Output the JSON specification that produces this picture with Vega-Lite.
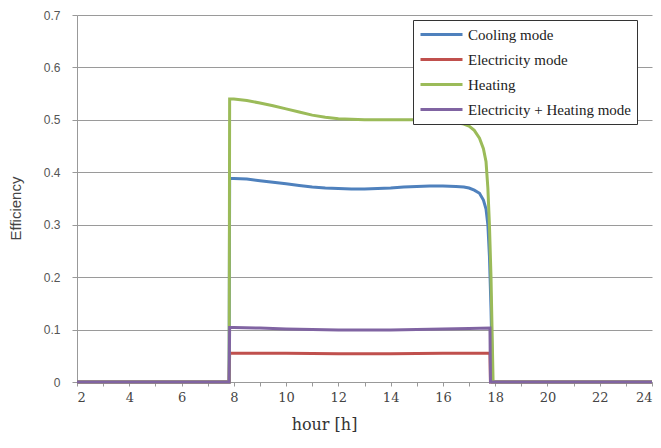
{
  "$schema": "https://vega.github.io/schema/vega-lite/v6.json",
  "width": 575,
  "height": 367,
  "autosize": {"type": "none"},
  "padding": {"left": 77, "top": 15, "right": 9, "bottom": 66},
  "background": "white",
  "config": {
    "view": {"stroke": null}
  },
  "data": {"values": [
    {"h":2,"s":"Cooling mode","v":0},{"h":7.82,"s":"Cooling mode","v":0},{"h":7.84,"s":"Cooling mode","v":0.388},{"h":8,"s":"Cooling mode","v":0.388},{"h":8.5,"s":"Cooling mode","v":0.387},{"h":9,"s":"Cooling mode","v":0.384},{"h":9.5,"s":"Cooling mode","v":0.381},{"h":10,"s":"Cooling mode","v":0.378},{"h":10.5,"s":"Cooling mode","v":0.375},{"h":11,"s":"Cooling mode","v":0.372},{"h":11.5,"s":"Cooling mode","v":0.37},{"h":12,"s":"Cooling mode","v":0.369},{"h":12.5,"s":"Cooling mode","v":0.368},{"h":13,"s":"Cooling mode","v":0.368},{"h":13.5,"s":"Cooling mode","v":0.369},{"h":14,"s":"Cooling mode","v":0.37},{"h":14.5,"s":"Cooling mode","v":0.372},{"h":15,"s":"Cooling mode","v":0.373},{"h":15.5,"s":"Cooling mode","v":0.374},{"h":16,"s":"Cooling mode","v":0.374},{"h":16.5,"s":"Cooling mode","v":0.373},{"h":16.8,"s":"Cooling mode","v":0.372},{"h":17,"s":"Cooling mode","v":0.37},{"h":17.2,"s":"Cooling mode","v":0.366},{"h":17.4,"s":"Cooling mode","v":0.36},{"h":17.55,"s":"Cooling mode","v":0.347},{"h":17.65,"s":"Cooling mode","v":0.33},{"h":17.72,"s":"Cooling mode","v":0.3},{"h":17.78,"s":"Cooling mode","v":0.24},{"h":17.84,"s":"Cooling mode","v":0.14},{"h":17.9,"s":"Cooling mode","v":0},{"h":24,"s":"Cooling mode","v":0},
    {"h":2,"s":"Electricity mode","v":0},{"h":7.82,"s":"Electricity mode","v":0},{"h":7.84,"s":"Electricity mode","v":0.055},{"h":10,"s":"Electricity mode","v":0.055},{"h":12,"s":"Electricity mode","v":0.054},{"h":14,"s":"Electricity mode","v":0.054},{"h":16,"s":"Electricity mode","v":0.055},{"h":17.8,"s":"Electricity mode","v":0.055},{"h":17.82,"s":"Electricity mode","v":0},{"h":24,"s":"Electricity mode","v":0},
    {"h":2,"s":"Heating","v":0},{"h":7.82,"s":"Heating","v":0},{"h":7.84,"s":"Heating","v":0.54},{"h":8,"s":"Heating","v":0.54},{"h":8.5,"s":"Heating","v":0.537},{"h":9,"s":"Heating","v":0.532},{"h":9.5,"s":"Heating","v":0.527},{"h":10,"s":"Heating","v":0.521},{"h":10.5,"s":"Heating","v":0.515},{"h":11,"s":"Heating","v":0.509},{"h":11.5,"s":"Heating","v":0.505},{"h":12,"s":"Heating","v":0.502},{"h":12.5,"s":"Heating","v":0.501},{"h":13,"s":"Heating","v":0.5},{"h":14,"s":"Heating","v":0.5},{"h":15,"s":"Heating","v":0.5},{"h":15.5,"s":"Heating","v":0.499},{"h":16,"s":"Heating","v":0.498},{"h":16.5,"s":"Heating","v":0.495},{"h":16.8,"s":"Heating","v":0.492},{"h":17,"s":"Heating","v":0.488},{"h":17.2,"s":"Heating","v":0.48},{"h":17.4,"s":"Heating","v":0.465},{"h":17.55,"s":"Heating","v":0.445},{"h":17.65,"s":"Heating","v":0.42},{"h":17.72,"s":"Heating","v":0.37},{"h":17.78,"s":"Heating","v":0.3},{"h":17.84,"s":"Heating","v":0.2},{"h":17.88,"s":"Heating","v":0.1},{"h":17.92,"s":"Heating","v":0},{"h":24,"s":"Heating","v":0},
    {"h":2,"s":"Electricity + Heating mode","v":0},{"h":7.82,"s":"Electricity + Heating mode","v":0},{"h":7.84,"s":"Electricity + Heating mode","v":0.104},{"h":8,"s":"Electricity + Heating mode","v":0.104},{"h":9,"s":"Electricity + Heating mode","v":0.103},{"h":10,"s":"Electricity + Heating mode","v":0.101},{"h":11,"s":"Electricity + Heating mode","v":0.1},{"h":12,"s":"Electricity + Heating mode","v":0.099},{"h":13,"s":"Electricity + Heating mode","v":0.099},{"h":14,"s":"Electricity + Heating mode","v":0.099},{"h":15,"s":"Electricity + Heating mode","v":0.1},{"h":16,"s":"Electricity + Heating mode","v":0.101},{"h":17,"s":"Electricity + Heating mode","v":0.102},{"h":17.8,"s":"Electricity + Heating mode","v":0.103},{"h":17.82,"s":"Electricity + Heating mode","v":0},{"h":24,"s":"Electricity + Heating mode","v":0}
  ]},
  "mark": {"type": "line", "strokeWidth": 3, "interpolate": "linear"},
  "encoding": {
    "x": {
      "field": "h", "type": "quantitative",
      "scale": {"domain": [2, 24], "nice": false, "zero": false},
      "axis": {
        "title": "hour [h]",
        "titleX": 247,
        "values": [2,3,4,5,6,7,8,9,10,11,12,13,14,15,16,17,18,19,20,21,22,23,24],
        "labelExpr": "datum.value % 2 == 0 ? datum.label : ''",
        "grid": false,
        "domainColor": "#999999",
        "tickColor": "#999999",
        "tickSize": 4,
        "labelFont": "DejaVu Serif",
        "labelFontSize": 13,
        "labelColor": "#444444",
        "labelPadding": 5,
        "titleFont": "DejaVu Serif",
        "titleFontSize": 16,
        "titleFontWeight": "normal",
        "titleColor": "#333333",
        "titlePadding": 12
      }
    },
    "y": {
      "field": "v", "type": "quantitative",
      "scale": {"domain": [0, 0.7], "nice": false},
      "axis": {
        "title": "Efficiency",
        "titleY": 193,
        "values": [0, 0.1, 0.2, 0.3, 0.4, 0.5, 0.6, 0.7],
        "format": "~g",
        "grid": true,
        "gridColor": "#9a9a9a",
        "gridWidth": 1,
        "domainColor": "#999999",
        "tickColor": "#999999",
        "tickSize": 5,
        "labelFont": "Liberation Sans",
        "labelFontSize": 12,
        "labelColor": "#555555",
        "labelPadding": 12,
        "titleFont": "Liberation Sans",
        "titleFontSize": 15,
        "titleFontWeight": "normal",
        "titleColor": "#444444",
        "titlePadding": 20
      }
    },
    "color": {
      "field": "s", "type": "nominal",
      "scale": {
        "domain": ["Cooling mode", "Electricity mode", "Heating", "Electricity + Heating mode"],
        "range": ["#4F81BD", "#C0504D", "#9BBB59", "#8064A2"]
      },
      "legend": {
        "title": null,
        "orient": "none",
        "legendX": 336,
        "legendY": 5,
        "direction": "vertical",
        "symbolType": "M-1,0H5",
        "symbolSize": 196,
        "symbolStrokeWidth": 3,
        "labelFont": "Liberation Serif",
        "labelFontSize": 15,
        "labelLimit": 300,
        "labelColor": "#222222",
        "labelOffset": 32,
        "rowPadding": 8,
        "padding": 6,
        "fillColor": "white",
        "strokeColor": "#333333",
        "cornerRadius": 0
      }
    }
  }
}
